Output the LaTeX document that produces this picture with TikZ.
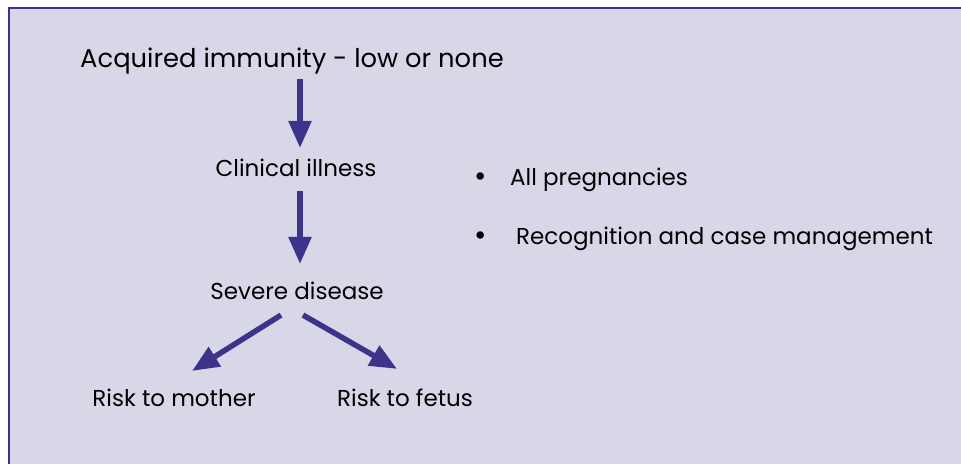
\documentclass[tikz,border=0pt]{standalone}
\usepackage{fontspec}
\setmainfont{Poppins}
\usetikzlibrary{arrows.meta}
\definecolor{boxfill}{RGB}{216,215,232}
\definecolor{navyarrow}{RGB}{60,52,138}
\tikzset{
  arr/.style={navyarrow, line width=5.5pt, -{Triangle[length=27pt, width=22pt]}},
  lbl/.style={inner sep=0pt, text=black, font=\fontsize{23}{27}\selectfont},
}
\begin{document}
\begin{tikzpicture}[x=1pt, y=-1pt]
    \useasboundingbox (0,0) rectangle (961,464);
    % Panel
    \fill[boxfill] (9,8) rectangle (961,464);
    \draw[navyarrow, line width=2pt] (9,464) -- (9,8) -- (961,8);

    % Chain of states
    \node[lbl, font=\fontsize{25.8}{30}\selectfont] (acq) at (292,61) {Acquired immunity - low or none};
    \node[lbl] (clin) at (296,168) {Clinical illness};
    \node[lbl] (sev) at (297,291) {Severe disease};
    \node[lbl] (mother) at (174,398) {Risk to mother};
    \node[lbl] (fetus) at (405,398) {Risk to fetus};

    % Bullets
    \foreach \y/\name/\x/\txt in {180/preg/510/All pregnancies, 239/recog/516/Recognition and case management} {
        \node[lbl, font=\fontsize{30}{30}\selectfont] at (481,\y) {•};
        \node[lbl, anchor=west] (\name) at (\x,\y) {\txt};
    }

    % Arrows
    \draw[arr] ([xshift=8pt, yshift=-5pt]acq.south) -- ([xshift=4pt, yshift=11pt]clin.north);
    \draw[arr] ([xshift=4pt, yshift=-14pt]clin.south) -- ([xshift=3pt, yshift=18pt]sev.north);
    \draw[arr] ([xshift=-16pt, yshift=-15pt]sev.south) -- ([xshift=18pt, yshift=18pt]mother.north);
    \draw[arr] ([xshift=6pt, yshift=-15pt]sev.south) -- ([xshift=-8pt, yshift=20pt]fetus.north);
\end{tikzpicture}
\end{document}
